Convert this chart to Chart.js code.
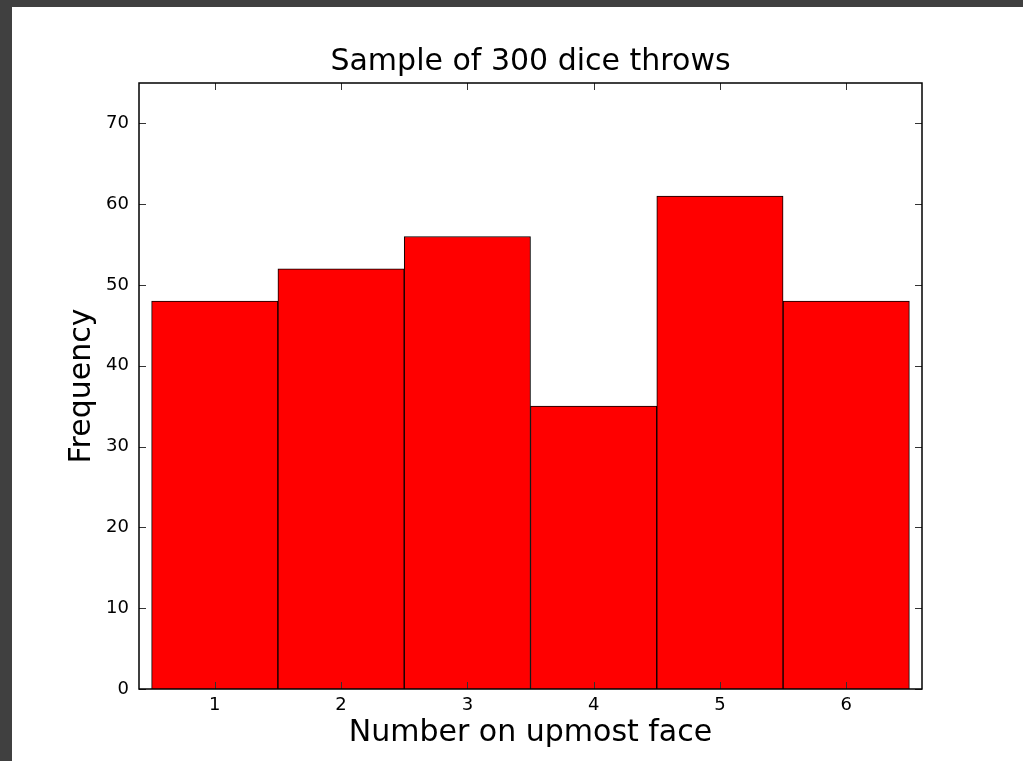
<!DOCTYPE html>
<html>
<head>
<meta charset="utf-8">
<script src="https://cdn.jsdelivr.net/npm/chart.js@4"></script>
<style>
  html, body { margin: 0; padding: 0; background: #404040; }
  #wrap { position: absolute; left: 12px; top: 7px; width: 1011px; height: 754px; background: #fff; }
</style>
</head>
<body>
<div id="wrap"><canvas id="diceChart" width="1011" height="754"></canvas></div>
<script>
// dice faces and how often each came up (300 throws)
const faces = [1, 2, 3, 4, 5, 6];
const counts = [48, 52, 56, 35, 61, 48];
const xTicks = [1, 2, 3, 4, 5, 6];
const yTicks = [0, 10, 20, 30, 40, 50, 60, 70];

const FONT = 'DejaVu Sans';

// matplotlib-style box with inward ticks on all four sides
const frame = {
    id: 'frame',
    afterDatasetsDraw(chart) {
        const { ctx, chartArea: a, scales: { x, y } } = chart;
        ctx.save();
        ctx.strokeStyle = '#333';
        ctx.lineWidth = 1;
        const len = 7;
        ctx.beginPath();
        xTicks.forEach(v => {
            const px = Math.round(x.getPixelForValue(v)) + 0.5;
            ctx.moveTo(px, a.bottom); ctx.lineTo(px, a.bottom - len);
            ctx.moveTo(px, a.top); ctx.lineTo(px, a.top + len);
        });
        yTicks.forEach(v => {
            const py = Math.round(y.getPixelForValue(v)) + 0.5;
            ctx.moveTo(a.left, py); ctx.lineTo(a.left + len, py);
            ctx.moveTo(a.right, py); ctx.lineTo(a.right - len, py);
        });
        ctx.stroke();
        ctx.strokeStyle = '#000';
        ctx.lineWidth = 1.5;
        ctx.strokeRect(a.left, a.top, a.right - a.left, a.bottom - a.top);
        ctx.restore();
    }
};

const ctx = document.getElementById('diceChart').getContext('2d');
new Chart(ctx, {
    type: 'bar',
    data: {
        datasets: [{
            label: 'Frequency',
            data: faces.map((f, i) => ({ x: f, y: counts[i] })),
            backgroundColor: '#ff0000',
            borderColor: '#000',
            borderWidth: 1,
            barPercentage: 1,
            categoryPercentage: 1
        }]
    },
    options: {
        responsive: false,
        animation: false,
        layout: { padding: { left: 0, top: 0, right: 101, bottom: 0 } },
        plugins: {
            legend: { display: false },
            tooltip: { enabled: false },
            title: {
                display: true,
                fullSize: false,
                text: 'Sample of 300 dice throws',
                color: '#000',
                font: { family: FONT, size: 30, weight: 'normal', lineHeight: 1.2 },
                padding: { top: 37.5, bottom: 2.5 }
            }
        },
        scales: {
            x: {
                type: 'linear',
                min: 0.4,
                max: 6.6,
                offset: false,
                grid: { display: false, drawTicks: false },
                border: { display: false },
                afterBuildTicks: s => { s.ticks = xTicks.map(v => ({ value: v })); },
                afterFit: s => { s.height = 72; },
                ticks: {
                    color: '#000',
                    padding: 6,
                    maxRotation: 0,
                    font: { family: FONT, size: 18 },
                    callback: v => String(v)
                },
                title: {
                    display: true,
                    text: 'Number on upmost face',
                    color: '#000',
                    font: { family: FONT, size: 30, lineHeight: 1.2 },
                    padding: { top: 0, bottom: 10 }
                }
            },
            y: {
                min: 0,
                max: 75,
                grid: { display: false, drawTicks: false },
                border: { display: false },
                afterBuildTicks: s => { s.ticks = yTicks.map(v => ({ value: v })); },
                afterFit: s => { s.width = 127; },
                ticks: {
                    color: '#000',
                    padding: 10,
                    font: { family: FONT, size: 18 },
                    callback: v => String(v)
                },
                title: {
                    display: true,
                    text: 'Frequency',
                    color: '#000',
                    font: { family: FONT, size: 30, lineHeight: 1.2 },
                    padding: { top: 52, bottom: 0 }
                }
            }
        }
    },
    plugins: [frame]
});
</script>
</body>
</html>
